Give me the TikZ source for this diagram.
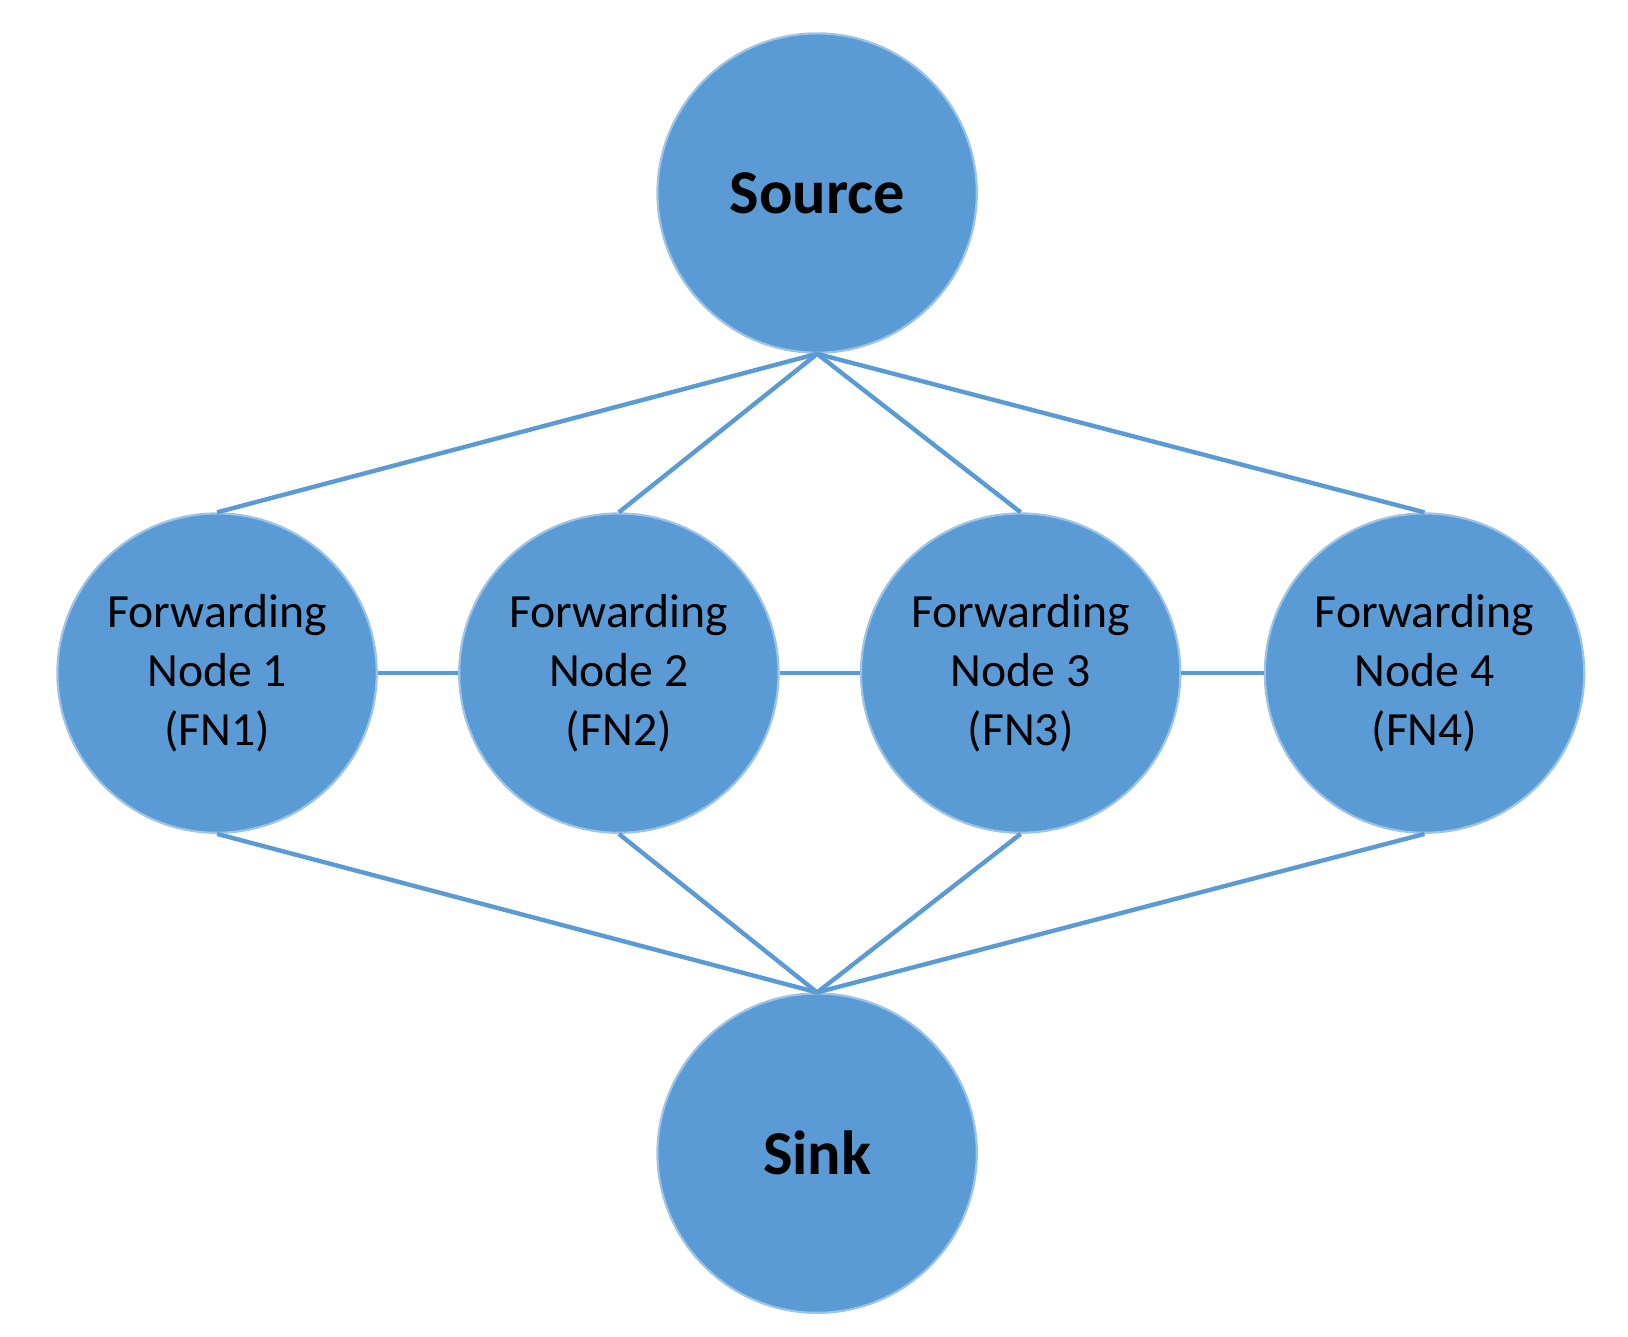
\documentclass[tikz,border=0pt]{standalone}
\usepackage{fontspec}
\setmainfont{Carlito}
\definecolor{fnblue}{HTML}{5B9BD5}
\begin{document}
\begin{tikzpicture}[font=\fontsize{13pt}{16pt}\selectfont,
    fn/.style={shape=circle, fill=fnblue, draw=fnblue!60!white, line width=0.6pt,
      minimum size=30.6mm, inner sep=0pt, align=center},
    link/.style={draw=fnblue, line width=1.2pt}]
    \path [use as bounding box] (0,0) rectangle (15.6,12.81);

    \node[name=source, fn, font=\fontsize{17pt}{20pt}\selectfont\bfseries] at (7.83,10.96) {Source};

    \node[name=fn1, fn] at (2.08,6.36) {Forwarding\\Node 1\\(FN1)};
    \node[name=fn2, fn] at (5.93,6.36) {Forwarding\\Node 2\\(FN2)};
    \node[name=fn3, fn] at (9.78,6.36) {Forwarding\\Node 3\\(FN3)};
    \node[name=fn4, fn] at (13.65,6.36) {Forwarding\\Node 4\\(FN4)};

    \node[name=sink, fn, font=\fontsize{17pt}{20pt}\selectfont\bfseries] at (7.83,1.76) {Sink};

    \begin{scope}[on background layer/.style={}]
    \foreach \n in {fn1,fn2,fn3,fn4} {
      \path[link] (source.south) -- (\n.north);
      \path[link] (\n.south) -- (sink.north);
    }
    \path[link] (fn1) -- (fn2);
    \path[link] (fn2) -- (fn3);
    \path[link] (fn3) -- (fn4);
    \end{scope}
\end{tikzpicture}
\end{document}
